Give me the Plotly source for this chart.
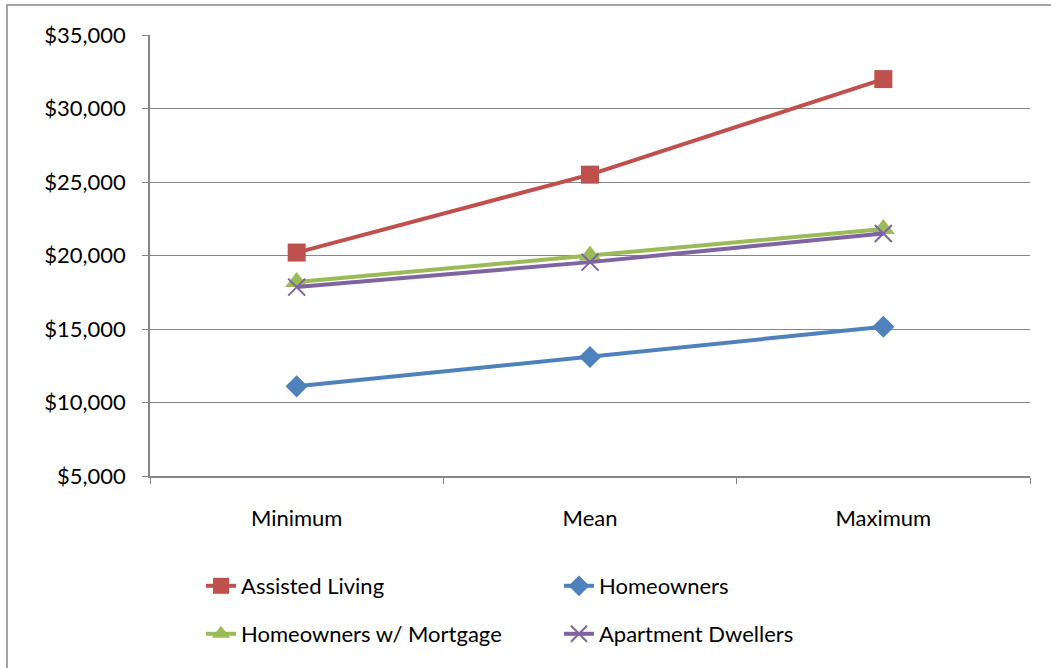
import plotly.graph_objects as go

categories = ["Minimum", "Mean", "Maximum"]
assisted_living = [20200, 25500, 32000]
homeowners = [11100, 13100, 15150]
homeowners_mortgage = [18200, 20000, 21800]
apartment_dwellers = [17850, 19550, 21500]
y_ticks = [5000, 10000, 15000, 20000, 25000, 30000, 35000]
y_tick_labels = ["$5,000", "$10,000", "$15,000", "$20,000", "$25,000", "$30,000", "$35,000"]

FONT = "Lato, 'Open Sans', sans-serif"
FS = 22
fig = go.Figure()

series = [
    ("Assisted Living", assisted_living, "#C0504D", dict(symbol="square", size=18), "legend"),
    ("Homeowners", homeowners, "#4F81BD", dict(symbol="diamond", size=17), "legend"),
    ("Homeowners w/ Mortgage", homeowners_mortgage, "#9BBB59", dict(symbol="triangle-up", size=20), "legend2"),
    ("Apartment Dwellers", apartment_dwellers, "#8064A2", dict(symbol="x-thin", size=17), "legend2"),
]
for name, vals, color, mk, lg in series:
    marker = dict(color=color, **mk)
    if mk["symbol"] == "x-thin":
        marker["line"] = dict(color=color, width=2)
    fig.add_trace(go.Scatter(
        x=categories, y=vals, name=name, mode="lines+markers",
        line=dict(color=color, width=4), marker=marker, legend=lg,
    ))

fig.add_shape(type="rect", xref="paper", yref="paper",
              x0=-0.1625, x1=1.03, y0=-0.44, y1=1.068,
              line=dict(color="#868686", width=1.5), layer="below")

leg_common = dict(
    orientation="h", xref="container", yref="container",
    xanchor="left", yanchor="middle",
    entrywidth=313, font=dict(family=FONT, size=FS),
)

fig.update_layout(
    width=1051, height=668,
    margin=dict(l=150, r=21, t=35, b=192),
    paper_bgcolor="white", plot_bgcolor="white",
    font=dict(family=FONT, size=FS, color="#000000"),
    showlegend=True,
    legend=dict(x=201 / 1051, y=1 - 586 / 668, **leg_common),
    legend2=dict(x=201 / 1051, y=1 - 634 / 668, **leg_common),
    xaxis=dict(
        type="category", showgrid=False, showline=True, linecolor="#868686", linewidth=1.5,
        ticks="outside", tickson="boundaries", ticklen=6, tickcolor="#868686",
        tickfont=dict(family=FONT, size=FS), range=[-0.5, 2.5], ticklabelstandoff=22,
    ),
    yaxis=dict(
        range=[5000, 35000], tickvals=y_ticks, ticktext=y_tick_labels,
        showgrid=True, gridcolor="#868686", gridwidth=1.2,
        showline=True, linecolor="#868686", linewidth=1.5,
        ticks="outside", ticklen=6, tickcolor="#868686",
        tickfont=dict(family=FONT, size=FS), zeroline=False, ticklabelstandoff=12,
    ),
)

fig.write_html("out.html")
